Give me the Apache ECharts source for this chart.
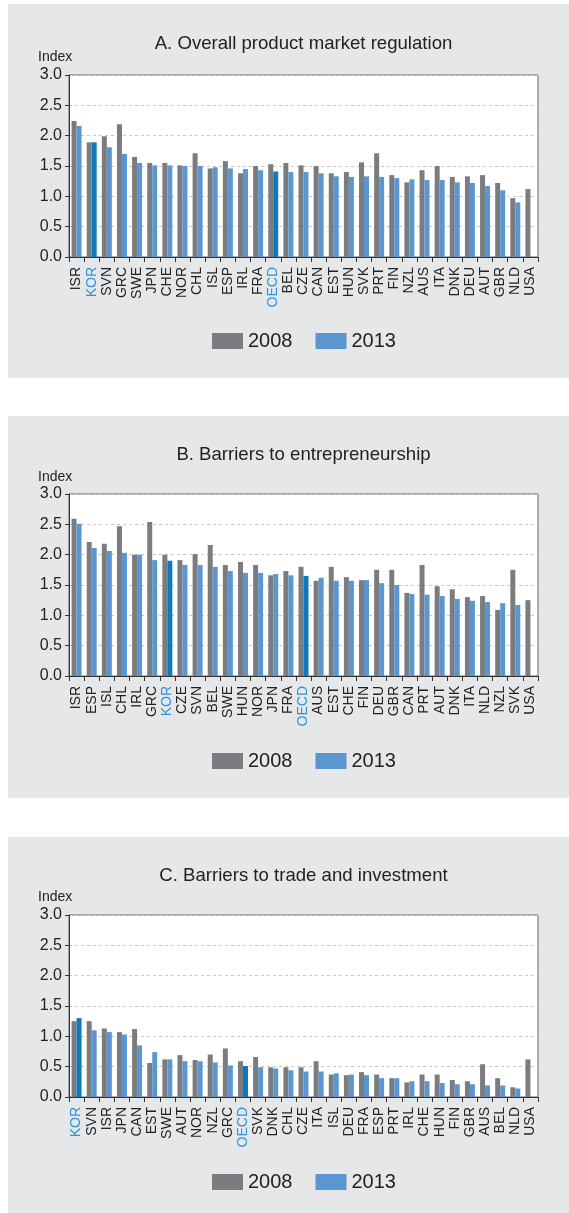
<!DOCTYPE html>
<html>
<head>
<meta charset="utf-8">
<script src="https://cdn.jsdelivr.net/npm/echarts@6/dist/echarts.min.js"></script>
<style>
html,body{margin:0;padding:0;background:#fff;}
#c{width:569px;height:1213px;}
</style>
</head>
<body>
<div id="c"></div>
<script>
// Panel A: Overall product market regulation
var catsA = ['ISR','KOR','SVN','GRC','SWE','JPN','CHE','NOR','CHL','ISL','ESP','IRL','FRA','OECD','BEL','CZE','CAN','EST','HUN','SVK','PRT','FIN','NZL','AUS','ITA','DNK','DEU','AUT','GBR','NLD','USA'];
var a2008 = [2.24,1.89,1.99,2.19,1.65,1.55,1.55,1.51,1.71,1.46,1.58,1.38,1.50,1.53,1.55,1.51,1.50,1.38,1.40,1.56,1.71,1.35,1.23,1.43,1.50,1.32,1.33,1.35,1.22,0.97,1.12];
var a2013 = [2.16,1.89,1.81,1.70,1.55,1.51,1.51,1.50,1.50,1.48,1.46,1.45,1.43,1.41,1.40,1.40,1.38,1.33,1.32,1.33,1.32,1.30,1.28,1.27,1.27,1.23,1.22,1.17,1.10,0.90,null];

// Panel B: Barriers to entrepreneurship
var catsB = ['ISR','ESP','ISL','CHL','IRL','GRC','KOR','CZE','SVN','BEL','SWE','HUN','NOR','JPN','FRA','OECD','AUS','EST','CHE','FIN','DEU','GBR','CAN','PRT','AUT','DNK','ITA','NLD','NZL','SVK','USA'];
var b2008 = [2.59,2.21,2.18,2.47,2.00,2.54,2.00,1.91,2.01,2.16,1.83,1.88,1.83,1.66,1.73,1.80,1.57,1.80,1.63,1.58,1.75,1.75,1.37,1.83,1.48,1.43,1.30,1.32,1.09,1.75,1.25];
var b2013 = [2.51,2.11,2.06,2.03,2.00,1.91,1.90,1.83,1.83,1.80,1.73,1.70,1.70,1.68,1.66,1.65,1.62,1.57,1.57,1.58,1.53,1.50,1.35,1.34,1.32,1.27,1.24,1.22,1.20,1.17,null];

// Panel C: Barriers to trade and investment
var catsC = ['KOR','SVN','ISR','JPN','CAN','EST','SWE','AUT','NOR','NZL','GRC','OECD','SVK','DNK','CHL','CZE','ITA','ISL','DEU','FRA','ESP','PRT','IRL','CHE','HUN','FIN','GBR','AUS','BEL','NLD','USA'];
var c2008 = [1.25,1.25,1.13,1.07,1.12,0.56,0.62,0.69,0.61,0.70,0.80,0.59,0.66,0.49,0.49,0.49,0.59,0.37,0.36,0.41,0.37,0.31,0.24,0.37,0.37,0.28,0.26,0.54,0.31,0.16,0.62];
var c2013 = [1.30,1.10,1.07,1.03,0.85,0.74,0.62,0.59,0.59,0.57,0.52,0.51,0.49,0.47,0.44,0.42,0.42,0.39,0.37,0.36,0.31,0.31,0.26,0.26,0.23,0.21,0.21,0.19,0.19,0.14,null];

var titles = ['A. Overall product market regulation','B. Barriers to entrepreneurship','C. Barriers to trade and investment'];
var yTicks = ['0.0','0.5','1.0','1.5','2.0','2.5','3.0'];
var highlight = ['KOR','OECD'];

var COL08 = '#7b7c80', COL13 = '#5b96d0', COLHI = '#0a7bc1', LBLHI = '#2a95d8';
var FONT = '"Liberation Sans", Arial, Helvetica, sans-serif';

var panels = [
  {cats: catsA, s08: a2008, s13: a2013, bgTop: 4, bgH: 374, gridTop: 75, titleY: 42, indexY: 57, legendY: 340},
  {cats: catsB, s08: b2008, s13: b2013, bgTop: 416, bgH: 382, gridTop: 494, titleY: 453, indexY: 477, legendY: 760},
  {cats: catsC, s08: c2008, s13: c2013, bgTop: 837, bgH: 376, gridTop: 915, titleY: 874, indexY: 897, legendY: 1181}
];

var grids = [], xAxes = [], yAxes = [], series = [], titleArr = [], legends = [], graphics = [];
panels.forEach(function(p, i){
  graphics.push({type:'rect', z:-10, shape:{x:8, y:p.bgTop, width:561, height:p.bgH}, style:{fill:'#e6e7e9'}});
  graphics.push({type:'text', x:38, y:p.indexY, style:{text:'Index', font:'14px ' + FONT, fill:'#222', textVerticalAlign:'middle'}});
  grids.push({left:69, top:p.gridTop, width:469, height:182, show:true, backgroundColor:'#fff', borderColor:'#666', borderWidth:1});
  titleArr.push({text: titles[i], left: 303.5, top: p.titleY - 8, textAlign:'center', padding:0,
    textStyle:{fontSize:18.6, fontWeight:'normal', color:'#222', fontFamily: FONT}});
  xAxes.push({type:'category', gridIndex:i, data:p.cats, boundaryGap:true,
    axisLine:{show:true, lineStyle:{color:'#333', width:1}},
    axisTick:{show:true, interval:0, length:5, lineStyle:{color:'#333'}},
    axisLabel:{interval:0, rotate:90, fontSize:14, fontFamily:FONT, margin:10,
      color:function(v){ return highlight.indexOf(v) >= 0 ? LBLHI : '#222'; }}
  });
  yAxes.push({type:'value', gridIndex:i, min:0, max:3, interval:0.5,
    axisLine:{show:true, lineStyle:{color:'#333'}},
    axisTick:{show:true, length:4, lineStyle:{color:'#333'}},
    axisLabel:{fontSize:16, fontFamily:FONT, color:'#222', margin:7,
      formatter:function(v){ return yTicks[Math.round(v*2)]; }},
    splitLine:{show:true, lineStyle:{color:'#c8c8c8', type:[3,3]}}
  });
  series.push({name:'2008', type:'bar', xAxisIndex:i, yAxisIndex:i, data:p.s08,
    itemStyle:{color:COL08}, barGap:'0%', barCategoryGap:'34%'});
  series.push({name:'2013', type:'bar', xAxisIndex:i, yAxisIndex:i,
    data:p.s13.map(function(v, k){
      return highlight.indexOf(p.cats[k]) >= 0 ? {value:v, itemStyle:{color:COLHI}} : v;
    }),
    itemStyle:{color:COL13}, barGap:'0%', barCategoryGap:'34%'});
  legends.push({data:['2008','2013'], left:212, top:p.legendY - 9, padding:0, itemWidth:31, itemHeight:16, itemGap:23,
    selectedMode:false, icon:'rect',
    textStyle:{fontSize:20, color:'#222', fontFamily:FONT}});
});

var chart = echarts.init(document.getElementById('c'), null, {renderer:'canvas'});
chart.setOption({
  animation:false,
  backgroundColor:'#fff',
  title:titleArr,
  legend:legends,
  grid:grids,
  xAxis:xAxes,
  yAxis:yAxes,
  series:series,
  graphic:graphics
});
</script>
</body>
</html>
